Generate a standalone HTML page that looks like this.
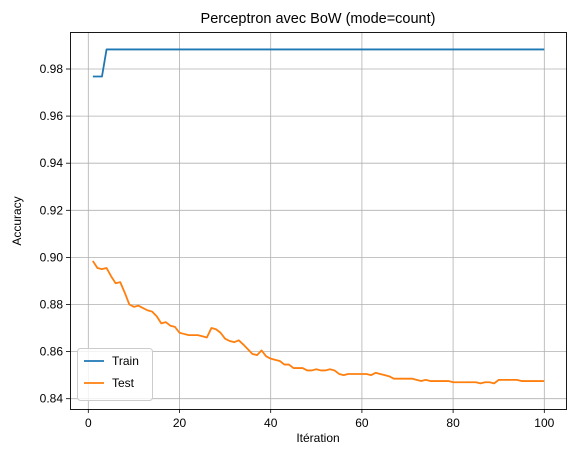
<!DOCTYPE html>
<html><head><meta charset="utf-8"><style>
body{margin:0;background:#fff}
svg text{font-family:"Liberation Sans","DejaVu Sans",sans-serif;fill:#000}
</style></head><body>
<svg id="chart" width="576" height="455">
<text x="318" y="23" font-size="14.5" text-anchor="middle">Perceptron avec BoW (mode=count)</text>
<g id="grid"></g>
<g id="ticks"></g>
<g id="series"></g>
<rect x="70.5" y="32.5" width="496" height="377" fill="none" stroke="#000" stroke-width="0.9"/>
<text x="318" y="442" font-size="12" text-anchor="middle">Itération</text>
<text x="21" y="221" font-size="12" text-anchor="middle" transform="rotate(-90 21 221)">Accuracy</text>
<g>
<rect x="77.5" y="348.5" width="75" height="52" rx="3" fill="#fff" fill-opacity="0.8" stroke="#ccc"/>
<line x1="84" y1="361" x2="104" y2="361" stroke="#1f77b4" stroke-width="1.8"/>
<text x="112" y="365" font-size="12">Train</text>
<line x1="84" y1="383" x2="104" y2="383" stroke="#ff7f0e" stroke-width="1.8"/>
<text x="112" y="387" font-size="12">Test</text>
</g>
</svg>
<script>
const xTicks=[0,20,40,60,80,100];
const yTicks=[0.84,0.86,0.88,0.90,0.92,0.94,0.96,0.98];
const yTickLabels=["0.84","0.86","0.88","0.90","0.92","0.94","0.96","0.98"];
const trainAcc=[0.9768,0.9768,0.9768].concat(Array(97).fill(0.9883));
const testAcc=[0.8985,0.8955,0.895,0.8955,0.892,0.889,0.8895,0.885,0.880,0.879,
0.8795,0.8785,0.8775,0.877,0.875,0.872,0.8725,0.871,0.8705,0.868,
0.8675,0.867,0.867,0.867,0.8665,0.866,0.870,0.8695,0.868,0.8655,
0.8645,0.864,0.8648,0.863,0.861,0.859,0.8585,0.8605,0.858,0.857,
0.8565,0.856,0.8545,0.8545,0.853,0.853,0.853,0.852,0.852,0.8525,
0.852,0.852,0.8525,0.852,0.8505,0.850,0.8505,0.8505,0.8505,0.8505,
0.8505,0.850,0.851,0.8505,0.850,0.8495,0.8485,0.8485,0.8485,0.8485,
0.8485,0.848,0.8475,0.848,0.8475,0.8475,0.8475,0.8475,0.8475,0.847,
0.847,0.847,0.847,0.847,0.847,0.8465,0.847,0.847,0.8465,0.848,
0.848,0.848,0.848,0.848,0.8475,0.8475,0.8475,0.8475,0.8475,0.8475];
const X=v=>88.3+(v/100)*456;
const Y=v=>69+(0.98-v)/0.02*47.1;
const NS="http://www.w3.org/2000/svg";
const grid=document.getElementById('grid'),ticks=document.getElementById('ticks'),series=document.getElementById('series');
function mk(tag,attrs,parent){const e=document.createElementNS(NS,tag);for(const k in attrs)e.setAttribute(k,attrs[k]);parent.appendChild(e);return e;}
xTicks.forEach(t=>{
 const g=mk('line',{x1:X(t),x2:X(t),y1:32,y2:409,stroke:'#b0b0b0','stroke-width':0.8},grid);
 
 
 mk('line',{x1:X(t),x2:X(t),y1:409,y2:413,stroke:'#000','stroke-width':0.8},ticks);
 const tx=mk('text',{x:X(t),y:427,'font-size':12,'text-anchor':'middle'},ticks);
 tx.textContent=t;
 
 
});
yTicks.forEach((t,i)=>{
 const g=mk('line',{x1:70,x2:566,y1:Y(t),y2:Y(t),stroke:'#b0b0b0','stroke-width':0.8},grid);
 
 
 mk('line',{x1:66,x2:70,y1:Y(t),y2:Y(t),stroke:'#000','stroke-width':0.8},ticks);
 const tx=mk('text',{x:63,y:Y(t)+4,'font-size':12,'text-anchor':'end'},ticks);
 tx.textContent=yTickLabels[i];
 
 
});
function line(arr,color,name){
 const p=mk('polyline',{points:arr.map((v,i)=>X(i+1)+','+Y(v)).join(' '),fill:'none',stroke:color,'stroke-width':1.8,'stroke-linejoin':'round'},series);
 
 
}
line(trainAcc,'#1f77b4','train-line');
line(testAcc,'#ff7f0e','test-line');
</script>
</body></html>
